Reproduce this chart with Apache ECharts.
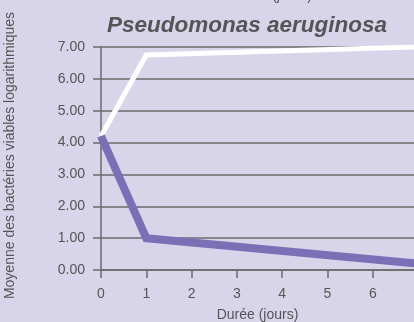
<!DOCTYPE html>
<html>
<head>
<meta charset="utf-8">
<script src="https://cdn.jsdelivr.net/npm/echarts@6/dist/echarts.min.js"></script>
<style>
  html, body { margin: 0; padding: 0; background: #d8d4ea; }
  #chart { width: 414px; height: 322px; }
</style>
</head>
<body>
<div id="chart"></div>
<script>
// Mean log viable bacteria over time (days), P. aeruginosa
const days = [0, 1, 7];
const controlCounts = [4.2, 6.75, 7.0];   // white line
const treatedCounts = [4.2, 1.0, 0.2];    // purple line
const dayTicks = [0, 1, 2, 3, 4, 5, 6];
const yTicks = [0, 1, 2, 3, 4, 5, 6, 7];

const textColor = '#555555';
const gridColor = '#6b6b6b';
const font = 'Liberation Sans, Arial, Helvetica, sans-serif';

const chart = echarts.init(document.getElementById('chart'), null, { renderer: 'canvas' });
chart.setOption({
  backgroundColor: '#d8d4ea',
  animation: false,
  title: [
    {
      text: 'Pseudomonas aeruginosa',
      left: 242, top: 9, textAlign: 'center',
      textStyle: { fontFamily: font, fontSize: 22.5, fontWeight: 'bold', fontStyle: 'italic', color: textColor }
    },
    {
      // axis title of the panel above, mostly cut off by the top edge
      text: 'Durée (jours)',
      left: 266, top: -16, textAlign: 'center',
      textStyle: { fontFamily: font, fontSize: 14, fontWeight: 'normal', color: textColor }
    }
  ],
  grid: { left: 101, right: 0, top: 47, bottom: 52, containLabel: false, outerBoundsMode: 'none' },
  xAxis: {
    type: 'value', min: 0, max: 6.91,
    name: 'Durée (jours)', nameLocation: 'middle', nameGap: 38, nameTextStyle: { fontFamily: font, fontSize: 14, color: textColor },
    axisLine: { show: true, lineStyle: { color: gridColor, width: 1.5 } },
    axisTick: { show: true, length: 8, customValues: dayTicks, lineStyle: { color: gridColor, width: 1.5 } },
    axisLabel: { fontFamily: font, fontSize: 14, color: textColor, margin: 17, customValues: dayTicks },
    splitLine: { show: false }
  },
  yAxis: {
    type: 'value', min: yTicks[0], max: yTicks[yTicks.length - 1], interval: 1,
    name: 'Moyenne des bactéries viables logarithmiques', nameLocation: 'middle', nameGap: 84,
    nameTextStyle: { fontFamily: font, fontSize: 14, color: textColor, padding: [0, 0, 0, 6] },
    axisLine: { show: true, lineStyle: { color: gridColor, width: 1.5 } },
    axisTick: { show: true, length: 8, lineStyle: { color: gridColor, width: 1.5 } },
    axisLabel: { fontFamily: font, fontSize: 14, color: textColor, margin: 16,
      formatter: v => v.toFixed(2) },
    splitLine: { show: true, lineStyle: { color: gridColor, width: 1.5 } }
  },
  series: [
    {
      type: 'line', data: days.map((d, i) => [d, controlCounts[i]]),
      symbol: 'none',
      lineStyle: { color: '#ffffff', width: 5, join: 'miter', cap: 'butt' }
    },
    {
      type: 'line', data: days.map((d, i) => [d, treatedCounts[i]]),
      symbol: 'none',
      lineStyle: { color: '#7b70b5', width: 8, join: 'miter', cap: 'butt' }
    }
  ]
});
</script>
</body>
</html>
